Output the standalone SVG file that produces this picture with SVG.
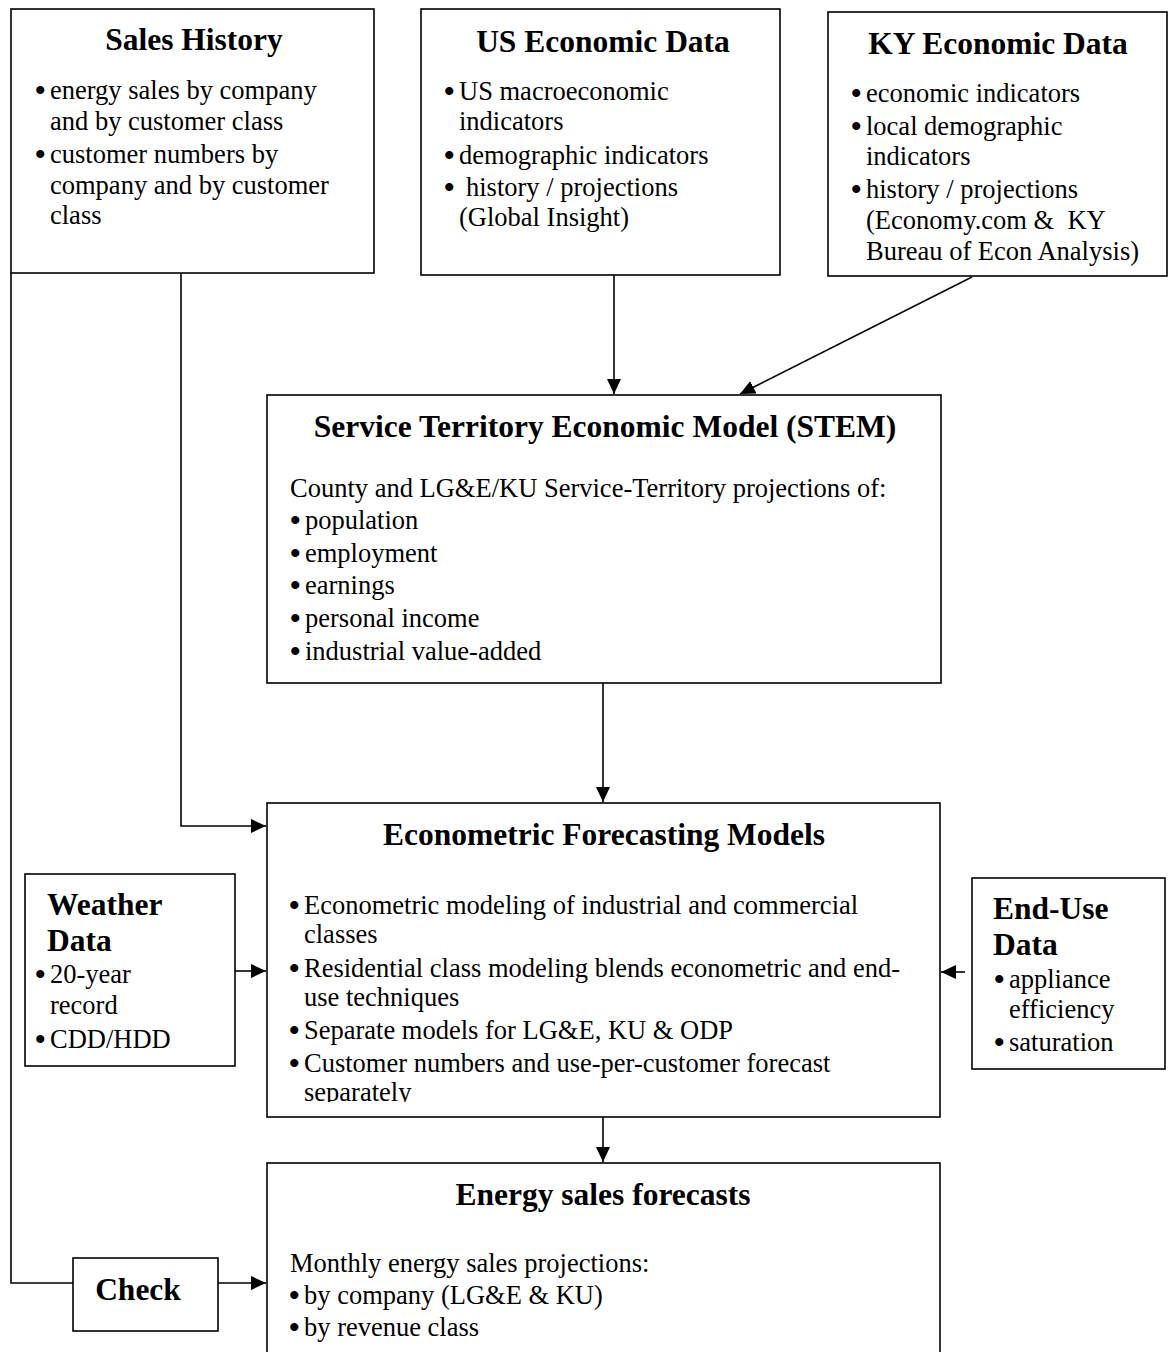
<svg xmlns="http://www.w3.org/2000/svg" width="1172" height="1352" viewBox="0 0 1172 1352">
<defs>
<style>
.box{fill:#fff;stroke:#000;stroke-width:1.6}
.t{font-family:"Liberation Serif","Times New Roman",serif;font-size:31.5px;font-weight:bold;fill:#000}
.b{font-family:"Liberation Serif","Times New Roman",serif;font-size:26.5px;fill:#000;white-space:pre}
.d{font-size:30px;font-weight:bold}
.c{text-anchor:middle}
.ln{fill:none;stroke:#000;stroke-width:1.6}
</style>
<marker id="ah" markerUnits="userSpaceOnUse" markerWidth="16" markerHeight="14" refX="15" refY="7" orient="auto">
<path d="M0,0 L15,7 L0,14 Z" fill="#000"/>
</marker>
<clipPath id="efmclip"><rect x="267" y="803" width="673" height="299"/></clipPath>
</defs>
<rect width="1172" height="1352" fill="#fff"/>

<g id="connectors">
<path class="ln" d="M11,273 V1283 H73"/>
<path class="ln" d="M181,273 V826 H266" marker-end="url(#ah)"/>
<path class="ln" d="M614,275 V394" marker-end="url(#ah)"/>
<path class="ln" d="M972,277 L740,394" marker-end="url(#ah)"/>
<path class="ln" d="M603,683 V802" marker-end="url(#ah)"/>
<path class="ln" d="M235,971 H266" marker-end="url(#ah)"/>
<path class="ln" d="M965,972 H941" marker-end="url(#ah)"/>
<path class="ln" d="M603,1117 V1162" marker-end="url(#ah)"/>
<path class="ln" d="M218,1283 H266" marker-end="url(#ah)"/>
</g>

<g id="sales-history">
<rect class="box" x="11" y="9" width="363" height="264"/>
<text class="t c" x="194" y="50">Sales History</text>
<text class="b" y="99"><tspan class="d" x="35" dy="1">•</tspan><tspan x="50" dy="-1">energy sales by company</tspan></text>
<text class="b" x="50" y="130">and by customer class</text>
<text class="b" y="163"><tspan class="d" x="35" dy="1">•</tspan><tspan x="50" dy="-1">customer numbers by</tspan></text>
<text class="b" x="50" y="194">company and by customer</text>
<text class="b" x="50" y="224">class</text>
</g>

<g id="us-economic-data">
<rect class="box" x="421" y="9" width="359" height="266"/>
<text class="t c" x="603" y="52">US Economic Data</text>
<text class="b" y="100"><tspan class="d" x="444" dy="1">•</tspan><tspan x="459" dy="-1">US macroeconomic</tspan></text>
<text class="b" x="459" y="130">indicators</text>
<text class="b" y="164"><tspan class="d" x="444" dy="1">•</tspan><tspan x="459" dy="-1">demographic indicators</tspan></text>
<text class="b" y="196"><tspan class="d" x="444" dy="1">•</tspan><tspan x="466" dy="-1">history / projections</tspan></text>
<text class="b" x="459" y="226">(Global Insight)</text>
</g>

<g id="ky-economic-data">
<rect class="box" x="828" y="12" width="339" height="264"/>
<text class="t c" x="998" y="54">KY Economic Data</text>
<text class="b" y="102"><tspan class="d" x="851" dy="1">•</tspan><tspan x="866" dy="-1">economic indicators</tspan></text>
<text class="b" y="135"><tspan class="d" x="851" dy="1">•</tspan><tspan x="866" dy="-1">local demographic</tspan></text>
<text class="b" x="866" y="165">indicators</text>
<text class="b" y="198"><tspan class="d" x="851" dy="1">•</tspan><tspan x="866" dy="-1">history / projections</tspan></text>
<text class="b" x="866" y="229">(Economy.com &amp;  KY</text>
<text class="b" x="866" y="260">Bureau of Econ Analysis)</text>
</g>

<g id="stem">
<rect class="box" x="267" y="395" width="674" height="288"/>
<text class="t c" x="605" y="437">Service Territory Economic Model (STEM)</text>
<text class="b" x="290" y="497">County and LG&amp;E/KU Service-Territory projections of:</text>
<text class="b" y="529"><tspan class="d" x="290" dy="1">•</tspan><tspan x="305" dy="-1">population</tspan></text>
<text class="b" y="562"><tspan class="d" x="290" dy="1">•</tspan><tspan x="305" dy="-1">employment</tspan></text>
<text class="b" y="594"><tspan class="d" x="290" dy="1">•</tspan><tspan x="305" dy="-1">earnings</tspan></text>
<text class="b" y="627"><tspan class="d" x="290" dy="1">•</tspan><tspan x="305" dy="-1">personal income</tspan></text>
<text class="b" y="660"><tspan class="d" x="290" dy="1">•</tspan><tspan x="305" dy="-1">industrial value-added</tspan></text>
</g>

<g id="econometric-forecasting-models">
<rect class="box" x="267" y="803" width="673" height="314"/>
<text class="t c" x="604" y="845">Econometric Forecasting Models</text>
<g clip-path="url(#efmclip)">
<text class="b" y="914"><tspan class="d" x="289" dy="1">•</tspan><tspan x="304" dy="-1">Econometric modeling of industrial and commercial</tspan></text>
<text class="b" x="304" y="943">classes</text>
<text class="b" y="977"><tspan class="d" x="289" dy="1">•</tspan><tspan x="304" dy="-1">Residential class modeling blends econometric and end-</tspan></text>
<text class="b" x="304" y="1006">use techniques</text>
<text class="b" y="1039"><tspan class="d" x="289" dy="1">•</tspan><tspan x="304" dy="-1">Separate models for LG&amp;E, KU &amp; ODP</tspan></text>
<text class="b" y="1072"><tspan class="d" x="289" dy="1">•</tspan><tspan x="304" dy="-1">Customer numbers and use-per-customer forecast</tspan></text>
<text class="b" x="304" y="1101">separately</text>
</g>
</g>

<g id="weather-data">
<rect class="box" x="25" y="874" width="210" height="192"/>
<text class="t" x="47" y="915">Weather</text>
<text class="t" x="47" y="951">Data</text>
<text class="b" y="983"><tspan class="d" x="35" dy="1">•</tspan><tspan x="50" dy="-1">20-year</tspan></text>
<text class="b" x="50" y="1014">record</text>
<text class="b" y="1048"><tspan class="d" x="35" dy="1">•</tspan><tspan x="50" dy="-1">CDD/HDD</tspan></text>
</g>

<g id="end-use-data">
<rect class="box" x="972" y="878" width="193" height="191"/>
<text class="t" x="993" y="919">End-Use</text>
<text class="t" x="993" y="955">Data</text>
<text class="b" y="988"><tspan class="d" x="994" dy="1">•</tspan><tspan x="1009" dy="-1">appliance</tspan></text>
<text class="b" x="1009" y="1018">efficiency</text>
<text class="b" y="1051"><tspan class="d" x="994" dy="1">•</tspan><tspan x="1009" dy="-1">saturation</tspan></text>
</g>

<g id="energy-sales-forecasts">
<rect class="box" x="267" y="1163" width="673" height="200"/>
<text class="t c" x="603" y="1205">Energy sales forecasts</text>
<text class="b" x="290" y="1272">Monthly energy sales projections:</text>
<text class="b" y="1304"><tspan class="d" x="289" dy="1">•</tspan><tspan x="304" dy="-1">by company (LG&amp;E &amp; KU)</tspan></text>
<text class="b" y="1336"><tspan class="d" x="289" dy="1">•</tspan><tspan x="304" dy="-1">by revenue class</tspan></text>
</g>

<g id="check">
<rect class="box" x="73" y="1258" width="145" height="73"/>
<text class="t c" x="138" y="1300">Check</text>
</g>
</svg>
